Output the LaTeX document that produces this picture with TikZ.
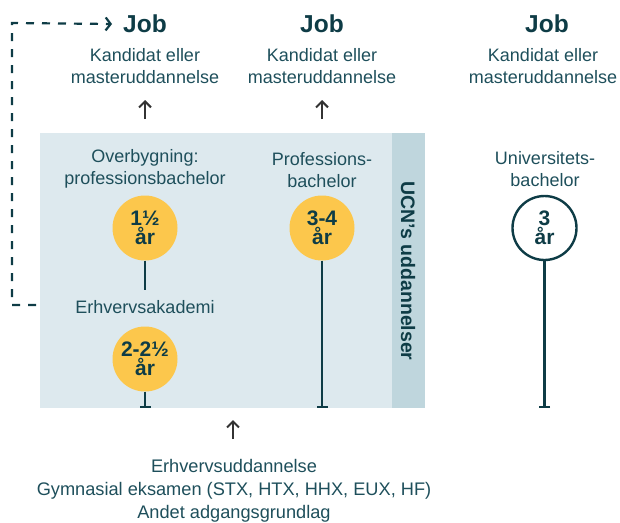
\documentclass[tikz,border=0pt]{standalone}
\usepackage{fontspec}
\setmainfont{Liberation Sans}
\usetikzlibrary{arrows.meta}
\definecolor{boxbg}{HTML}{DDE9EE}
\definecolor{strip}{HTML}{BFD6DD}
\definecolor{txt}{HTML}{1E4F5B}
\definecolor{dark}{HTML}{0E3C46}
\definecolor{yel}{HTML}{FCC74C}
\definecolor{arr}{HTML}{333333}
\tikzset{
  lbl/.style={text=txt, align=center, font=\fontsize{18}{22}\selectfont, inner sep=1pt},
  jobtxt/.style={text=dark, font=\fontsize{24.5}{26}\selectfont\bfseries, inner sep=1pt},
  yr/.style={circle, fill=yel, minimum size=65pt, inner sep=0pt, align=center, text=dark, font=\fontsize{21}{19.5}\selectfont\bfseries},
  yro/.style={circle, draw=dark, line width=2.4pt, fill=white, minimum size=64pt, inner sep=0pt, align=center, text=dark, font=\fontsize{21}{19.5}\selectfont\bfseries},
  stem/.style={draw=dark, line width=2.4pt, -{Bar[width=11pt,line width=2.2pt]}},
  stemplain/.style={draw=dark, line width=2.4pt},
  uparr/.style={draw=arr, line width=2pt, -{Straight Barb[length=6pt,width=12pt,line width=2pt]}},
}
\begin{document}
\begin{tikzpicture}[x=1pt,y=-1pt]
\useasboundingbox (0,0) rectangle (620,522);
% background boxes
\fill[boxbg] (40,133) rectangle (392,408);
\fill[strip] (392,133) rectangle (425,408);
\node[rotate=-90, text=dark, font=\fontsize{19.5}{22}\selectfont\bfseries] (ucn) at (408,271) {UCN’s uddannelser};

% column 1
\node[jobtxt] (job1) at (145,24) {Job};
\node[lbl] (kand1) at (145,66) {Kandidat eller\\masteruddannelse};
\coordinate (a1s) at (145,119);
\coordinate (a1e) at (145,100);
\draw[uparr] (a1s) -- (a1e);
\node[lbl] (over) at (145,169) {Overbygning:\\professionsbachelor};
\node[yr] (c1) at (145,228) {1½\\år};
\node[lbl] (erh) at (145,307) {Erhvervsakademi};
\node[yr] (c2) at (145,359) {2-2½\\år};
\coordinate (e1) at (145,290);
\coordinate (b1) at (145,408);
\draw[stemplain] (c1.south) -- (e1);
\draw[stem] (c2.south) -- (b1);

% column 2
\node[jobtxt] (job2) at (322,24) {Job};
\node[lbl] (kand2) at (322,66) {Kandidat eller\\masteruddannelse};
\coordinate (a2s) at (322,119);
\coordinate (a2e) at (322,100);
\draw[uparr] (a2s) -- (a2e);
\node[lbl] (prof) at (322,170) {Professions-\\bachelor};
\node[yr] (c3) at (322,228) {3-4\\år};
\coordinate (b2) at (322,408);
\draw[stem] (c3.south) -- (b2);

% column 3
\node[jobtxt] (job3) at (547,24) {Job};
\node[lbl] (kand3) at (543,66) {Kandidat eller\\masteruddannelse};
\node[lbl] (uni) at (545,169) {Universitets-\\bachelor};
\node[yro] (c4) at (544.5,228) {3\\år};
\coordinate (b3) at (544.5,408);
\draw[stem] (c4.south) -- (b3);

% bottom
\coordinate (a3s) at (233,439);
\coordinate (a3e) at (233,420);
\draw[uparr] (a3s) -- (a3e);
\node[lbl, font=\fontsize{18.2}{23}\selectfont] (entry) at (234,491) {Erhvervsuddannelse\\Gymnasial eksamen (STX, HTX, HHX, EUX, HF)\\Andet adgangsgrundlag};

% dashed return
\coordinate (d0) at (36,305);
\coordinate (d1) at (12,305);
\coordinate (d2) at (12,23);
\draw[dark, line width=2.2pt, dash pattern=on 8pt off 8pt, -{Straight Barb[length=5pt,width=13pt,line width=2.2pt]}] (d0) -- (d1) -- (d2) -- ([xshift=-10pt]job1.west);
\end{tikzpicture}
\end{document}
